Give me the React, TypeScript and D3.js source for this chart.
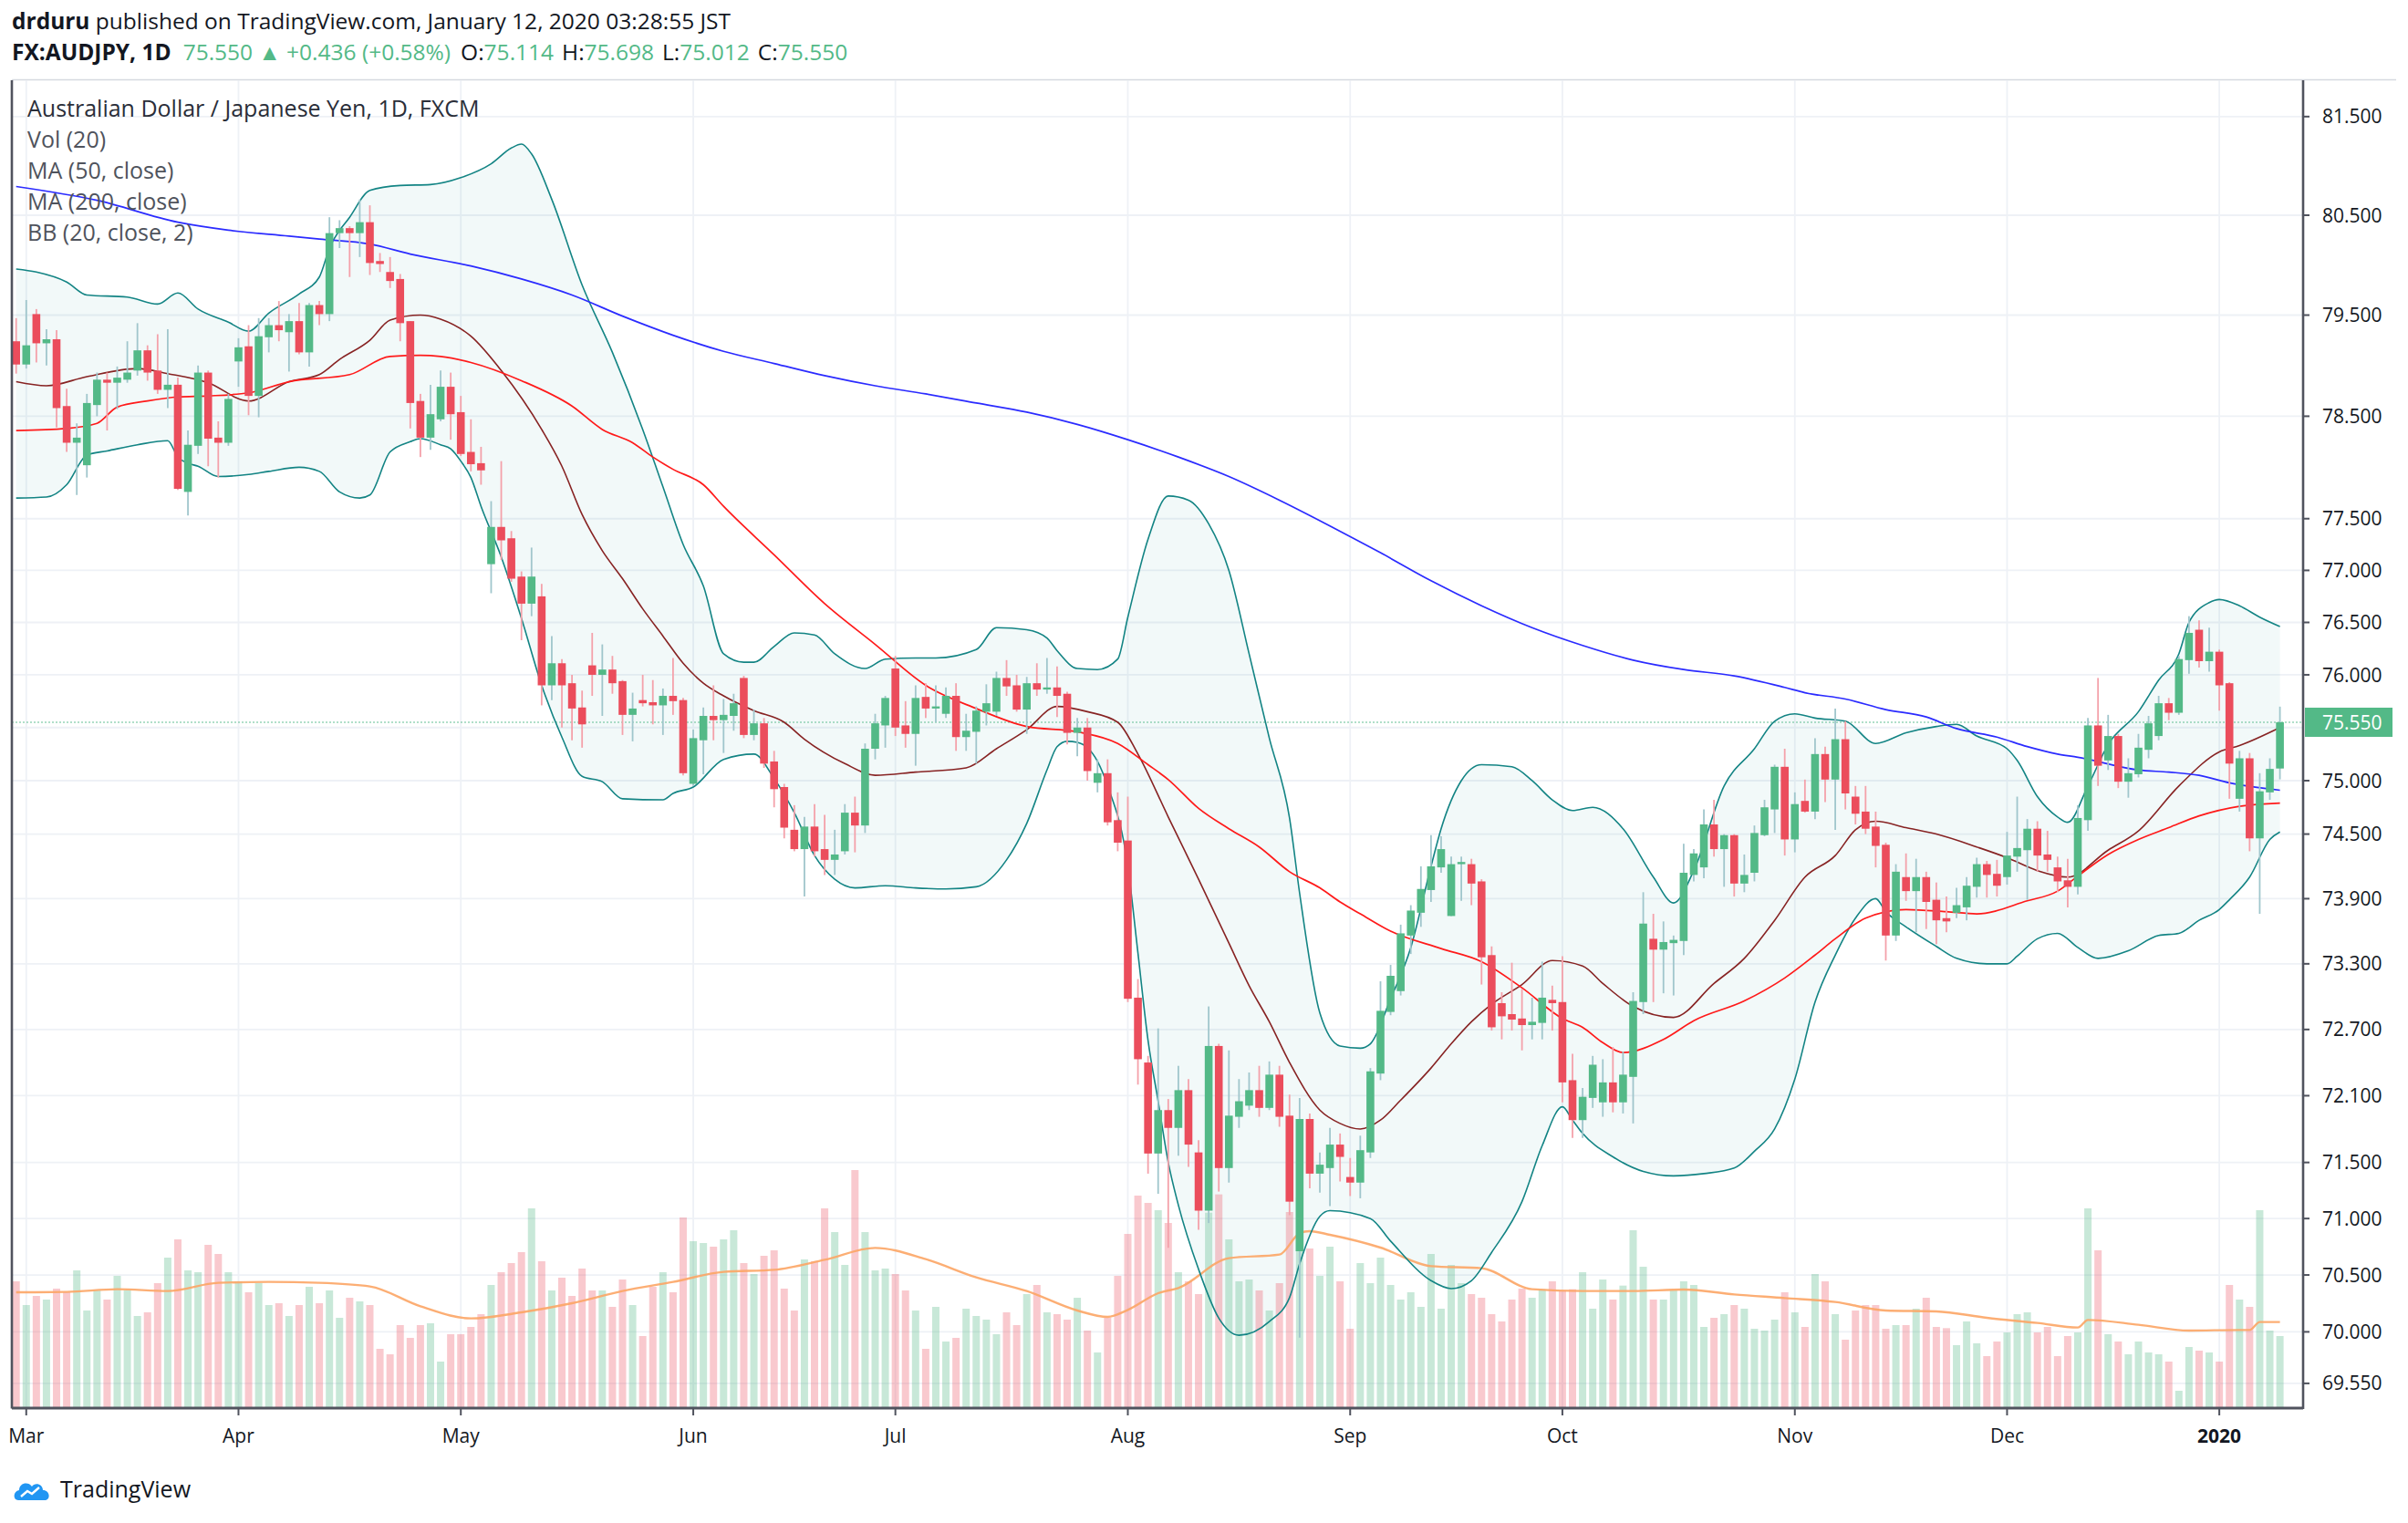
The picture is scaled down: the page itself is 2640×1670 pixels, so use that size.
import React from "react";
import * as d3 from "d3";

// ---- daily candles, AUD/JPY (FXCM), 2019-02-28 .. 2020-01-10 ----
const opens = [79.24,79.01,79.51,79.22,79.26,78.60,78.24,78.02,78.61,78.86,
78.83,78.86,78.95,79.15,78.95,78.76,78.81,77.76,78.21,78.93,
78.29,78.24,79.04,79.19,78.70,79.28,79.40,79.33,79.44,79.13,
79.60,79.51,80.32,80.37,80.32,80.43,80.04,79.93,79.86,79.44,
78.65,78.29,78.47,78.79,78.54,78.15,78.04,77.06,77.42,77.31,
76.94,76.68,76.75,75.90,76.11,75.92,75.69,76.09,76.00,76.05,
75.94,75.62,75.76,75.74,75.71,75.80,75.76,74.97,75.38,75.61,
75.57,75.61,75.97,75.43,75.54,75.18,74.94,74.54,74.36,74.57,
74.36,74.26,74.34,74.70,74.58,75.30,75.52,76.06,75.52,75.44,
75.79,75.68,75.63,75.80,75.41,75.46,75.65,75.65,75.97,75.90,
75.67,75.92,75.86,75.88,75.82,75.45,75.50,74.98,75.07,74.63,
74.44,72.99,72.40,71.58,71.97,71.81,72.15,71.59,71.07,72.55,
71.45,71.91,72.01,72.15,71.99,72.29,71.92,70.71,71.89,71.40,
71.45,71.66,71.37,71.32,71.59,72.30,72.86,73.05,73.56,73.77,
73.98,74.19,73.74,74.22,74.22,74.06,73.38,72.94,72.84,72.80,
72.74,72.76,72.97,72.95,72.24,71.88,72.08,72.04,72.22,72.04,
72.27,72.95,73.53,73.43,73.49,73.51,74.12,74.19,74.59,74.36,
74.49,74.04,74.14,74.49,74.73,75.13,74.45,74.81,74.71,75.25,
75.01,75.39,74.85,74.71,74.57,74.40,73.56,74.10,73.97,74.10,
73.89,73.72,73.77,73.82,74.01,74.22,74.13,74.10,74.29,74.35,
74.55,74.31,74.19,74.07,74.01,74.63,75.52,75.19,75.42,74.99,
75.06,75.29,75.42,75.73,75.64,76.14,76.43,76.13,76.22,75.92,
74.83,75.21,74.46,74.89,75.114];

const highs = [79.47,79.65,79.56,79.36,79.35,78.77,78.43,78.72,78.93,78.93,
78.99,79.24,79.42,79.20,79.31,79.36,78.88,78.36,79.00,78.95,
78.45,78.72,79.27,79.40,79.47,79.47,79.64,79.51,79.62,79.62,
79.64,80.48,80.45,80.39,80.66,80.60,80.12,80.08,79.91,79.44,
78.72,78.81,78.95,78.93,78.70,78.47,78.20,77.67,78.06,77.38,
76.99,77.22,76.87,76.37,76.15,76.00,75.85,76.40,76.29,76.18,
75.95,75.83,76.00,75.95,75.87,76.16,75.78,75.48,75.69,75.90,
75.77,75.82,75.99,75.67,75.59,75.28,74.97,74.77,74.66,74.78,
74.68,74.54,74.78,74.85,75.35,75.63,75.80,76.18,75.75,75.90,
75.92,75.90,75.88,75.92,75.63,75.70,75.91,76.03,76.14,76.00,
75.98,76.11,76.16,76.08,75.84,75.59,75.59,75.20,75.20,74.89,
74.85,73.16,72.46,72.71,72.07,72.37,72.25,71.70,72.91,72.57,
72.51,72.25,72.31,72.37,72.41,72.37,72.11,72.08,71.94,71.59,
71.81,71.76,71.54,71.74,72.35,73.14,73.29,73.66,73.84,74.20,
74.49,74.48,74.29,74.29,74.27,74.08,73.46,73.04,73.31,73.07,
72.99,73.32,73.10,73.37,72.48,72.17,72.46,72.43,72.54,72.50,
73.04,73.96,73.76,73.69,73.56,74.41,74.36,74.73,74.82,74.50,
74.50,74.31,74.58,74.82,75.15,75.30,74.89,75.01,75.40,75.32,
75.68,75.56,74.95,74.95,74.71,74.42,74.22,74.32,74.27,74.15,
74.05,73.92,74.00,74.10,74.28,74.25,74.26,74.52,74.85,74.64,
74.62,74.53,74.29,74.27,74.77,75.59,75.97,75.62,75.44,75.21,
75.44,75.61,75.80,75.78,76.18,76.56,76.52,76.45,76.24,75.93,
75.28,75.26,75.07,75.21,75.698];

const lows = [78.92,78.97,79.03,79.00,78.39,78.15,77.73,77.90,78.50,78.36,
78.57,78.83,78.90,78.85,78.72,78.58,77.78,77.53,78.13,78.01,
77.90,78.21,78.79,78.51,78.49,79.13,79.24,78.94,79.11,78.99,
79.40,79.44,80.17,79.88,80.08,79.90,79.93,79.77,79.24,78.38,
78.10,78.17,78.45,78.27,78.11,77.96,77.83,76.78,77.10,76.89,
76.33,76.56,75.71,75.76,75.50,75.38,75.31,75.80,75.61,75.82,
75.43,75.37,75.70,75.53,75.43,75.62,75.05,74.95,75.06,75.38,
75.26,75.47,75.40,75.38,75.12,74.75,74.46,74.34,73.92,74.29,
74.12,74.12,74.31,74.33,74.51,75.20,75.31,75.42,75.31,75.14,
75.59,75.55,75.59,75.28,75.28,75.16,75.52,75.61,75.80,75.65,
75.44,75.80,75.82,75.60,75.34,75.23,75.00,74.89,74.58,74.34,
72.95,72.20,71.40,71.22,70.74,71.56,71.46,70.90,70.96,71.24,
71.32,71.81,71.97,71.91,71.97,71.82,71.03,69.95,71.27,71.23,
71.11,71.33,71.20,71.18,71.54,72.24,72.83,73.01,73.39,73.64,
73.87,74.14,73.74,73.88,73.84,73.11,72.69,72.61,72.69,72.51,
72.61,72.61,72.69,72.04,71.72,71.72,71.99,71.91,71.95,71.94,
71.85,72.84,72.95,73.03,73.01,73.38,74.06,74.09,74.29,74.01,
73.92,73.96,74.06,74.48,74.51,74.30,74.33,74.70,74.64,74.80,
74.54,74.73,74.59,74.50,74.19,73.33,73.51,73.88,73.59,73.62,
73.48,73.59,73.72,73.70,73.91,73.91,73.92,74.03,74.15,73.89,
74.15,74.15,73.96,73.82,73.94,74.53,74.95,75.10,74.93,74.84,
75.03,75.21,75.38,75.57,75.62,76.01,76.07,76.03,75.66,74.83,
74.71,74.34,73.76,74.82,75.012];

const closes = [79.01,79.20,79.22,79.26,78.58,78.24,78.29,78.63,78.86,78.83,
78.88,78.93,79.15,78.93,78.76,78.81,77.79,78.22,78.93,78.28,
78.24,78.67,79.18,78.70,79.29,79.40,79.35,79.44,79.13,79.60,
79.51,80.32,80.37,80.32,80.43,80.02,80.01,79.84,79.42,78.63,
78.29,78.52,78.79,78.52,78.13,78.03,77.97,77.42,77.29,76.92,
76.68,76.94,75.90,76.11,75.90,75.68,75.53,76.00,76.05,75.92,
75.62,75.68,75.73,75.71,75.80,75.75,75.07,75.40,75.61,75.57,
75.62,75.73,75.43,75.54,75.16,74.92,74.56,74.36,74.57,74.34,
74.26,74.31,74.70,74.58,75.30,75.54,75.78,75.50,75.44,75.78,
75.68,75.70,75.80,75.41,75.47,75.66,75.73,75.97,75.89,75.67,
75.92,75.86,75.88,75.80,75.45,75.50,75.09,75.07,74.61,74.42,
72.98,72.43,71.58,71.97,71.81,72.15,71.66,71.07,72.55,71.45,
71.92,72.05,72.15,71.99,72.29,71.91,71.15,71.89,71.40,71.48,
71.66,71.55,71.32,71.61,72.32,72.87,73.19,73.58,73.79,73.99,
74.20,74.36,74.22,74.24,74.04,73.36,72.72,72.82,72.79,72.74,
72.77,72.99,72.94,72.22,71.88,72.09,72.38,72.22,72.04,72.29,
72.96,73.67,73.43,73.50,73.52,74.14,74.32,74.59,74.36,74.49,
74.04,74.12,74.51,74.75,75.13,74.45,74.78,74.71,75.25,75.01,
75.39,74.88,74.69,74.55,74.39,73.56,74.15,73.97,74.10,73.87,
73.70,73.69,73.84,74.02,74.22,74.12,74.02,74.30,74.37,74.55,
74.30,74.26,74.06,74.01,74.65,75.52,75.14,75.42,74.99,75.07,
75.31,75.54,75.73,75.64,76.15,76.40,76.13,76.22,75.90,75.16,
75.21,74.46,74.90,75.11,75.550];

// tick volume (arbitrary units)
const volumes = [414,336,366,354,390,378,450,318,384,354,
432,384,300,312,408,492,552,450,444,534,
504,444,414,378,408,336,342,300,336,396,
342,384,294,360,348,336,192,174,270,228,
270,276,150,240,240,264,306,402,444,474,
510,654,480,384,426,366,456,384,384,330,
420,336,234,396,444,378,624,546,540,528,
552,582,474,438,498,516,390,318,486,480,
654,576,468,780,576,450,456,438,384,318,
192,330,216,228,324,300,288,240,312,270,
372,402,312,306,288,360,252,180,294,432,
570,696,672,648,606,444,414,372,640,700,
552,414,420,384,318,408,642,690,522,432,
528,414,258,474,408,492,402,354,378,330,
504,324,468,408,372,360,306,282,354,390,
360,388,414,384,388,444,324,420,354,400,
582,462,354,354,384,414,402,264,294,306,
336,324,258,252,288,378,312,264,438,414,
306,222,318,336,336,258,270,270,324,360,
264,260,204,282,210,168,216,246,306,312,
246,264,168,234,246,654,516,240,216,174,
216,180,174,150,54,198,186,180,150,402,
354,330,648,252,234];

// indicator lines, sampled at bar indices
const ma200Idx = [0,8,16,21,27,30,35,39,45,50,55,60,65,70,75,80,85,90,95,100,105,110,115,120,125,130,135,140,145,150,155,160,165,170,175,177,181,185,189,192,196,199,202,204,210,213,216,219,224];
const ma200Val = [80.79,80.65,80.43,80.35,80.29,80.26,80.21,80.11,79.99,79.86,79.70,79.49,79.30,79.14,79.02,78.90,78.80,78.72,78.63,78.54,78.42,78.27,78.10,77.91,77.68,77.43,77.17,76.90,76.66,76.45,76.28,76.14,76.05,75.99,75.88,75.83,75.77,75.67,75.60,75.49,75.41,75.32,75.25,75.22,75.10,75.08,75.05,74.98,74.91];

const ma50Idx = [0,5,8,10,13,16,19,23,27,33,37,40,42,45,50,55,58,61,63,65,68,70,75,80,85,90,95,100,105,109,112,114,117,120,123,126,129,131,133,136,141,145,149,153,155,157,159,163,166,171,175,178,180,183,187,191,194,199,202,204,207,210,213,216,220,224];
const ma50Val = [78.36,78.38,78.43,78.59,78.65,78.69,78.70,78.73,78.84,78.91,79.09,79.10,79.09,79.03,78.85,78.60,78.37,78.24,78.10,77.98,77.83,77.62,77.15,76.68,76.29,75.90,75.68,75.51,75.46,75.35,75.15,75.01,74.74,74.55,74.38,74.15,74.00,73.87,73.76,73.60,73.44,73.32,73.08,72.80,72.72,72.58,72.49,72.61,72.78,72.96,73.17,73.38,73.53,73.72,73.80,73.78,73.76,73.88,73.97,74.11,74.31,74.45,74.56,74.67,74.76,74.79];

const bbMidIdx = [0,3,7,12,15,19,23,27,30,32,35,37,40,42,45,48,52,54,56,58,60,62,64,66,68,70,73,76,78,82,85,89,94,97,100,103,106,109,111,114,117,120,122,124,126,129,131,133,135,137,140,142,144,146,149,152,155,157,160,164,168,171,174,177,180,182,184,187,190,194,197,200,203,207,210,214,218,220,224];
const bbMidVal = [78.84,78.80,78.89,78.97,78.92,78.83,78.65,78.84,78.91,79.06,79.25,79.45,79.50,79.46,79.29,78.95,78.37,78.01,77.54,77.19,76.92,76.63,76.37,76.11,75.92,75.80,75.66,75.55,75.39,75.16,75.05,75.08,75.12,75.30,75.48,75.70,75.65,75.55,75.25,74.66,74.08,73.49,73.10,72.77,72.40,71.97,71.85,71.80,71.88,72.06,72.35,72.57,72.77,72.93,73.11,73.33,73.28,73.12,72.91,72.81,73.12,73.35,73.70,74.10,74.30,74.54,74.62,74.56,74.50,74.38,74.28,74.16,74.10,74.35,74.53,74.95,75.27,75.33,75.50];

const bbUpIdx = [0,2,5,7,11,14,16,18,21,23,25,28,30,31,33,35,38,41,44,47,49,50,51,53,56,59,62,64,66,68,70,72,73,75,77,79,81,84,86,89,91,95,97,100,102,103,105,107,109,110,112,114,116,118,120,122,124,126,127,129,131,133,134,136,138,140,141,143,145,148,150,152,154,156,159,162,164,166,169,172,174,176,178,181,184,187,190,192,194,197,198,200,202,203,205,207,210,212,214,215,217,218,220,222,224];
const bbUpVal = [79.96,79.93,79.83,79.70,79.68,79.61,79.72,79.56,79.43,79.34,79.52,79.71,79.88,80.17,80.48,80.75,80.80,80.81,80.88,81.02,81.18,81.22,81.12,80.66,79.80,79.13,78.37,77.81,77.25,76.85,76.20,76.12,76.12,76.27,76.40,76.38,76.20,76.06,76.15,76.16,76.16,76.24,76.45,76.43,76.35,76.23,76.06,76.05,76.15,76.55,77.30,77.72,77.68,77.45,77.00,76.20,75.40,74.65,73.95,72.85,72.55,72.53,72.57,72.98,73.45,74.20,74.55,75.00,75.15,75.13,75.00,74.82,74.72,74.75,74.55,74.10,73.86,74.16,74.95,75.30,75.56,75.63,75.59,75.56,75.35,75.45,75.51,75.53,75.42,75.30,75.19,74.85,74.66,74.61,74.95,75.34,75.65,75.95,76.20,76.50,76.69,76.72,76.66,76.55,76.46];

const bbLoIdx = [0,3,5,7,9,12,15,16,17,18,20,23,25,28,30,32,34,35,37,39,40,42,43,44,45,46,48,50,52,54,56,58,60,64,65,67,70,73,75,77,79,81,83,86,89,92,95,98,100,102,103,104,105,107,108,110,111,112,113,114,115,117,119,121,124,126,127,129,130,134,136,140,142,144,146,149,151,153,154,155,158,161,164,167,170,172,174,176,178,180,182,184,185,187,190,192,195,197,198,200,202,204,206,209,212,214,216,218,219,221,223,224];
const bbLoVal = [77.70,77.71,77.83,78.12,78.16,78.22,78.26,78.10,78.04,78.01,77.91,77.93,77.96,78.00,77.96,77.76,77.70,77.73,78.15,78.25,78.28,78.22,78.18,78.06,77.90,77.62,77.13,76.54,75.90,75.41,75.04,74.99,74.83,74.82,74.88,74.94,75.20,75.25,75.02,74.70,74.30,74.08,74.00,74.02,74.00,73.99,74.01,74.26,74.60,75.10,75.32,75.37,75.36,75.18,74.95,74.20,73.40,72.60,72.05,71.50,71.12,70.55,70.12,69.97,70.09,70.30,70.60,71.02,71.07,71.00,70.80,70.45,70.38,70.45,70.70,71.15,71.65,72.00,71.88,71.76,71.55,71.42,71.38,71.40,71.45,71.60,71.80,72.25,72.95,73.38,73.72,73.90,73.78,73.64,73.46,73.35,73.30,73.30,73.37,73.53,73.58,73.45,73.35,73.42,73.56,73.58,73.70,73.80,73.89,74.10,74.45,74.52];

const volMaIdx = [0,5,10,15,20,25,30,35,40,45,50,55,60,65,70,75,80,85,90,95,100,105,108,110,113,115,120,125,127,128,130,135,140,145,150,155,160,165,170,175,180,185,190,195,200,204,205,210,215,220,221,222,224];
const volMaVal = [378,379,388,382,409,412,409,397,332,292,312,342,382,412,445,452,485,524,487,427,382,318,297,320,375,392,490,502,572,579,567,525,464,457,388,382,382,387,371,359,346,318,315,294,277,262,287,271,252,254,254,280,280];

// price axis ticks shown by the reference
const priceTicks = [81.5,80.5,79.5,78.5,77.5,77.0,76.5,76.0,75.5,75.0,74.5,73.9,73.3,72.7,72.1,71.5,71.0,70.5,70.0,69.55];
const lastPrice = 75.55;
const holidays = ["2019-12-25", "2020-01-01"];

const UP = "#53b987";
const DOWN = "#eb4d5c";
const TEXT = "#131722";
const FONT = "'Open Sans', 'Noto Sans', sans-serif";

function tradingDays(n: number): Date[] {
  const out: Date[] = [];
  const d = new Date(Date.UTC(2019, 1, 28));
  while (out.length < n) {
    const wd = d.getUTCDay();
    const s = d.toISOString().slice(0, 10);
    if (wd !== 0 && wd !== 6 && !holidays.includes(s)) out.push(new Date(d));
    d.setUTCDate(d.getUTCDate() + 1);
  }
  return out;
}

export default function App() {
  const W = 2640, H = 1670;
  const plot = { left: 13, right: 2525, top: 88, bottom: 1543 };
  const n = closes.length;
  const days = tradingDays(n);

  const x = d3.scaleLinear().domain([0, n - 1]).range([17.7, 2499.6]);
  const y = d3.scaleLog().domain([69.55, 81.5]).range([1516.9, 127.85]);
  const yVol = d3.scaleLinear().domain([0, 780]).range([plot.bottom, plot.bottom - 260]);

  const months = d3.range(1, n)
    .filter((i) => days[i].getUTCMonth() !== days[i - 1].getUTCMonth())
    .map((i) => ({
      i,
      label: days[i].getUTCMonth() === 0 ? d3.utcFormat("%Y")(days[i]) : d3.utcFormat("%b")(days[i]),
      year: days[i].getUTCMonth() === 0,
    }));

  const priceLine = (idx: number[], val: number[]) =>
    d3.line<number>().x((_, k) => x(idx[k])).y((v) => y(v)).curve(d3.curveMonotoneX)(val) || "";
  const volLine = d3.line<number>().x((_, k) => x(volMaIdx[k])).y((v) => yVol(v)).curve(d3.curveMonotoneX)(volMaVal) || "";

  const upPath = priceLine(bbUpIdx, bbUpVal);
  const loRev = d3.line<number>()
    .x((_, k) => x(bbLoIdx[bbLoIdx.length - 1 - k]))
    .y((v) => y(v))
    .curve(d3.curveMonotoneX)(bbLoVal.slice().reverse()) || "";
  const bandPath = upPath + "L" + loRev.slice(1) + "Z";

  const bodyW = 8.6;
  const volW = 8;
  const yLast = y(lastPrice);

  return (
    <svg width={W} height={H} style={{ position: "absolute", left: 0, top: 0, background: "#fff" }} fontFamily={FONT}>
      <defs>
        <clipPath id="plotClip">
          <rect x={plot.left} y={plot.top} width={plot.right - plot.left} height={plot.bottom - plot.top} />
        </clipPath>
      </defs>
      <rect x={0} y={0} width={W} height={H} fill="#fff" />

      {/* header */}
      <text x={13} y={32} fontSize={24.5} fill={TEXT}>
        <tspan fontWeight={700}>drduru</tspan> published on TradingView.com, January 12, 2020 03:28:55 JST
      </text>
      <text x={13} y={66} fontSize={24.5} fill={TEXT}>
        <tspan fontWeight={700}>FX:AUDJPY, 1D</tspan>
        <tspan dx={13} fill={UP}>75.550 ▲ +0.436 (+0.58%)</tspan>
        <tspan dx={11}>O:</tspan><tspan fill={UP}>75.114</tspan>
        <tspan dx={9}>H:</tspan><tspan fill={UP}>75.698</tspan>
        <tspan dx={9}>L:</tspan><tspan fill={UP}>75.012</tspan>
        <tspan dx={9}>C:</tspan><tspan fill={UP}>75.550</tspan>
      </text>

      {/* frame */}
      <line x1={plot.left} x2={W - 13} y1={87.5} y2={87.5} stroke="#d6d9e0" strokeWidth={1.5} />

      {/* grid */}
      {priceTicks.map((p) => (
        <line key={"g" + p} x1={plot.left} x2={plot.right} y1={y(p)} y2={y(p)} stroke="#eef1f6" strokeWidth={1.8} />
      ))}
      {months.map((m) => (
        <line key={"v" + m.i} x1={x(m.i)} x2={x(m.i)} y1={plot.top} y2={plot.bottom} stroke="#eef1f6" strokeWidth={1.8} />
      ))}

      <g clipPath="url(#plotClip)">
        {/* Bollinger band fill */}
        <path d={bandPath} fill="rgba(25,140,140,0.055)" stroke="none" />

        {/* volume */}
        {volumes.map((v, i) => (
          <rect key={"vb" + i} x={x(i) - volW / 2} y={yVol(v)} width={volW} height={plot.bottom - yVol(v)}
            fill={closes[i] >= opens[i] ? "rgba(83,185,135,0.32)" : "rgba(235,77,92,0.3)"} />
        ))}
        <path d={volLine} fill="none" stroke="#fca565" strokeWidth={2.4} opacity={0.9} />

        {/* last price line */}
        <line x1={plot.left} x2={plot.right} y1={yLast} y2={yLast} stroke={UP} strokeOpacity={0.45} strokeWidth={2} strokeDasharray="2 2" />

        {/* indicators */}
        <path d={upPath} fill="none" stroke="#138484" strokeWidth={1.6} />
        <path d={priceLine(bbLoIdx, bbLoVal)} fill="none" stroke="#138484" strokeWidth={1.6} />
        <path d={priceLine(bbMidIdx, bbMidVal)} fill="none" stroke="#872323" strokeWidth={1.6} />
        <path d={priceLine(ma50Idx, ma50Val)} fill="none" stroke="#ff1a1a" strokeWidth={1.7} />
        <path d={priceLine(ma200Idx, ma200Val)} fill="none" stroke="#2b2bff" strokeWidth={1.7} />

        {/* candles */}
        {closes.map((c, i) => {
          const o = opens[i];
          const up = c >= o;
          const top = y(Math.max(o, c));
          const bot = y(Math.min(o, c));
          const hi = y(Math.max(highs[i], o, c));
          const lo = y(Math.min(lows[i], o, c));
          return (
            <g key={"c" + i}>
              <line x1={x(i)} x2={x(i)} y1={hi} y2={lo} stroke={up ? "#a0c6cc" : "#f4a1aa"} strokeWidth={1.8} />
              <rect x={x(i) - bodyW / 2} y={top} width={bodyW} height={Math.max(2, bot - top)} fill={up ? UP : DOWN} />
            </g>
          );
        })}
      </g>

      {/* legend */}
      <g fontSize={25} fill="#4f535c">
        <text x={30} y={128} fill="#2a2e39">Australian Dollar / Japanese Yen, 1D, FXCM</text>
        <text x={30} y={162}>Vol (20)</text>
        <text x={30} y={196}>MA (50, close)</text>
        <text x={30} y={230}>MA (200, close)</text>
        <text x={30} y={264}>BB (20, close, 2)</text>
      </g>

      {/* axes */}
      <line x1={plot.left} x2={plot.left} y1={plot.top} y2={plot.bottom + 1.5} stroke="#50535e" strokeWidth={2.6} />
      <line x1={plot.left} x2={plot.right} y1={plot.bottom + 1} y2={plot.bottom + 1} stroke="#50535e" strokeWidth={2.8} />
      <line x1={plot.right} x2={plot.right} y1={plot.top} y2={plot.bottom + 2} stroke="#50535e" strokeWidth={2.6} />

      {priceTicks.filter((p) => p !== 75.5).map((p) => (
        <g key={"t" + p}>
          <line x1={plot.right} x2={plot.right + 7} y1={y(p)} y2={y(p)} stroke="#50535e" strokeWidth={2} />
          <text x={2546} y={y(p)} dy="0.36em" fontSize={21} fill={TEXT}>{p.toFixed(3)}</text>
        </g>
      ))}
      <rect x={plot.right + 2} y={yLast - 16} width={96} height={32} fill={UP} />
      <text x={2546} y={yLast} dy="0.36em" fontSize={21} fill="#fff">{lastPrice.toFixed(3)}</text>

      {months.map((m) => (
        <g key={"m" + m.i}>
          <line x1={x(m.i)} x2={x(m.i)} y1={plot.bottom + 2} y2={plot.bottom + 9} stroke="#50535e" strokeWidth={2} />
          <text x={x(m.i)} y={1574} dy="0.36em" textAnchor="middle" fontSize={21} fill={TEXT} fontWeight={m.year ? 700 : 400}>{m.label}</text>
        </g>
      ))}

      {/* TradingView mark */}
      <g transform="translate(14,1619)">
        <path d="M6,26 C0,26 0,16 7,15 C7,7 17,5 21,11 C24,6 33,8 33,15 C41,15 42,26 35,26 Z" fill="#2196f3" />
        <path d="M9,22 L16,16 L21,19 L29,12" fill="none" stroke="#fff" strokeWidth={2.4} />
      </g>
      <text x={66} y={1642} fontSize={25} fill={TEXT}>TradingView</text>
    </svg>
  );
}
